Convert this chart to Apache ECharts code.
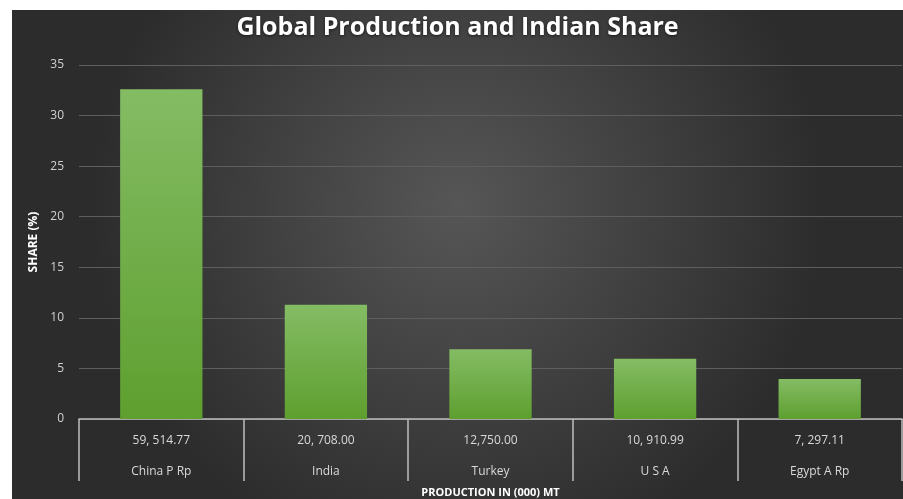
<!DOCTYPE html>
<html>
<head>
<meta charset="utf-8">
<script src="https://cdn.jsdelivr.net/npm/echarts@6/dist/echarts.min.js"></script>
<style>
    body { margin: 0; background: #ffffff; }
    #main { position: absolute; left: 12px; top: 10px; width: 891px; height: 489px; }
</style>
</head>
<body>
<div id="main"></div>
<script>
    // 数据
    var countries = ['China P Rp', 'India', 'Turkey', 'U S A', 'Egypt A Rp'];
    var production = ['59, 514.77', '20, 708.00', '12,750.00', '10, 910.99', '7, 297.11'];
    var share = [32.6, 11.3, 6.9, 5.95, 3.95];

    var chart = echarts.init(document.getElementById('main'));

    var option = {
        backgroundColor: {
            type: 'radial', x: 0.5, y: 0.4, r: 0.75,
            colorStops: [
                { offset: 0, color: '#565656' },
                { offset: 1, color: '#2c2c2c' }
            ]
        },
        title: {
            text: 'Global Production and Indian Share',
            left: 'center',
            top: 0,
            textStyle: {
                color: '#ffffff', fontSize: 25, fontWeight: 'bold', fontFamily: 'Open Sans',
                textShadowColor: 'rgba(0,0,0,0.6)', textShadowBlur: 3, textShadowOffsetY: 1
            }
        },
        grid: { left: 67, right: 1, top: 55, bottom: 80, outerBoundsMode: 'none', containLabel: false },
        xAxis: {
            type: 'category',
            data: countries,
            name: 'PRODUCTION IN (000) MT',
            nameLocation: 'middle',
            nameGap: 68,
            nameTextStyle: { color: '#ffffff', fontSize: 11, fontWeight: 'bold', fontFamily: 'Open Sans' },
            axisLine: { lineStyle: { color: '#bfbfbf', width: 1.5 } },
            axisTick: { show: true, interval: 0, length: 62, lineStyle: { color: '#bfbfbf', width: 1.5 } },
            axisLabel: {
                interval: 0,
                margin: 6,
                formatter: function (v, i) {
                    return '{a|' + production[i] + '}\n{b|' + v + '}';
                },
                rich: {
                    a: { color: '#d9d9d9', fontSize: 12, lineHeight: 31, fontFamily: 'Open Sans' },
                    b: { color: '#d9d9d9', fontSize: 12, lineHeight: 31, fontFamily: 'Open Sans' }
                }
            }
        },
        yAxis: {
            type: 'value',
            min: 0, max: 35, interval: 5,
            name: 'SHARE (%)',
            nameLocation: 'middle',
            nameGap: 37,
            nameTextStyle: { color: '#ffffff', fontSize: 12, fontWeight: 'bold', fontFamily: 'Open Sans' },
            axisLine: { show: false },
            axisTick: { show: false },
            axisLabel: { color: '#d0d0d0', fontSize: 12, margin: 15, fontFamily: 'Open Sans' },
            splitLine: { lineStyle: { color: '#5e5e5e', width: 1 } }
        },
        series: [{
            type: 'bar',
            data: share,
            barWidth: '50%',
            itemStyle: {
                color: {
                    type: 'linear', x: 0, y: 0, x2: 0, y2: 1,
                    colorStops: [
                        { offset: 0, color: '#84bc64' },
                        { offset: 1, color: '#5e9f2f' }
                    ]
                },
                shadowColor: 'rgba(0,0,0,0.4)',
                shadowBlur: 4
            }
        }]
    };

    chart.setOption(option);
</script>
</body>
</html>
